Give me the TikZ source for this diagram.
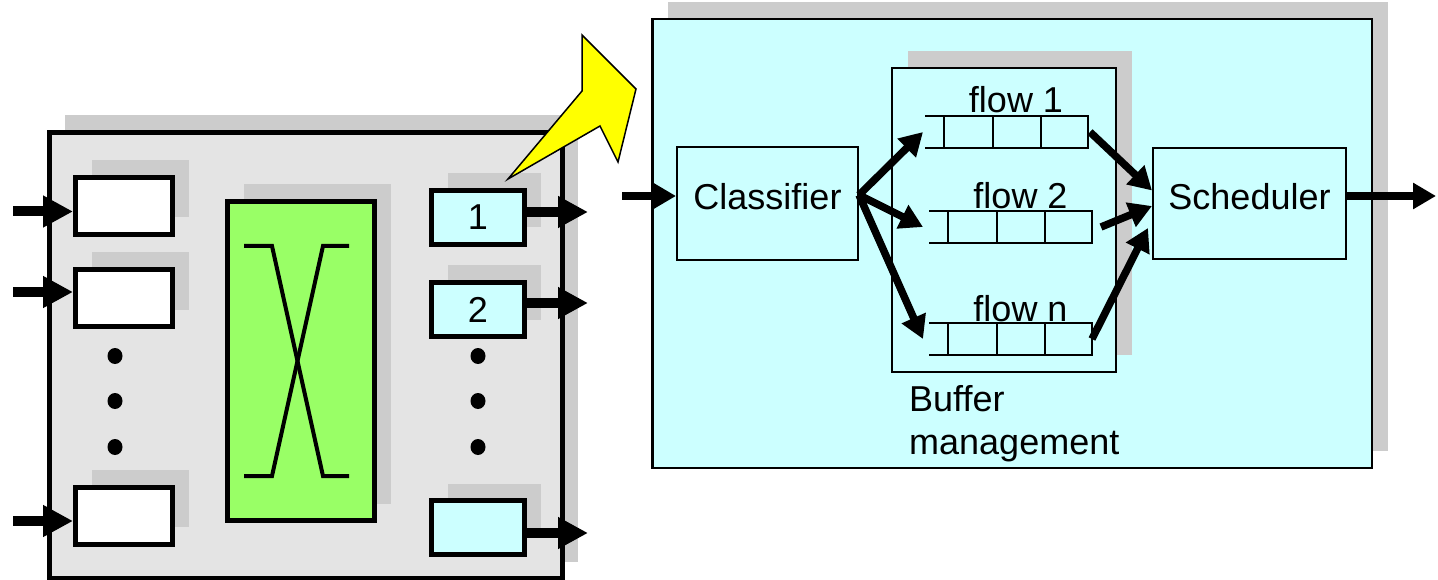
\documentclass[tikz,border=0pt]{standalone}
\usepackage{fontspec}
\setmainfont{Liberation Sans}
\usetikzlibrary{arrows.meta,shadows,calc}
\definecolor{cyanbg}{HTML}{CCFFFF}
\definecolor{shgray}{HTML}{CCCCCC}
\definecolor{boxgray}{HTML}{E4E4E4}
\definecolor{swgreen}{HTML}{99FF66}
\definecolor{hlyellow}{HTML}{FFFF00}
\begin{document}
\begin{tikzpicture}[x=1pt,y=-1pt,
  shd/.style={general shadow={fill=shgray, shadow xshift=16pt, shadow yshift=17pt}},
  thickbox/.style={draw, line width=5pt, inner sep=0pt, shd},
  thinbox/.style={draw, line width=2pt, inner sep=0pt},
  lab/.style={font=\fontsize{36}{43}\selectfont, inner sep=0pt},
  arrL/.style={line width=10pt, -{Triangle[length=30pt,width=30pt]}},
  arrR/.style={line width=7.5pt, -{Triangle[length=23pt,width=25pt]}},
  qline/.style={line width=2pt},
  queue/.pic={
    \node[minimum width=163pt, minimum height=32pt, inner sep=0pt, outer sep=0pt] (-q) at (0,0) {};
    \draw[qline] (-81.5,-16) -- (81.5,-16) -- (81.5,16) -- (-81.5,16);
    \foreach \qx in {-62.5,-14,34} \draw[qline] (\qx,-16) -- (\qx,16);
  }
]
\useasboundingbox (0,0) rectangle (1438,580);

% ---------- right panel ----------
\node[draw, line width=2.5pt, fill=cyanbg, shd, inner sep=0pt,
      minimum width=719.5pt, minimum height=448.5pt] (panel) at (1012,243.5) {};
\node[thinbox, shd, fill=cyanbg, minimum width=224pt, minimum height=304pt] (buf) at (1004,220) {};
\node[thinbox, fill=cyanbg, minimum width=181pt, minimum height=113pt, lab,
      text height=26pt, text depth=13pt] (cls) at (767.5,203.5) {Classifier};
\node[thinbox, fill=cyanbg, minimum width=193pt, minimum height=111pt, lab,
      text height=26pt, text depth=13pt] (sch) at (1249.5,203.5) {Scheduler};

\pic (q1) at (1006.5,132) {queue};
\pic (q2) at (1010.5,227) {queue};
\pic (qn) at (1010.5,339) {queue};
\node[lab, anchor=base] (f1) at (1016,113) {flow 1};
\node[lab, anchor=base] (f2) at (1020.5,209) {flow 2};
\node[lab, anchor=base] (fn) at (1020.5,321) {flow n};
\node[lab, anchor=north west, align=left] (bml) at (909,385) {Buffer\\management};

\coordinate (fork) at ([yshift=8.5pt]cls.east);
\draw[arrR] (fork) -- ([xshift=-2pt]q1-q.west);
\draw[arrR] (fork) -- ([xshift=-6pt]q2-q.west);
\draw[arrR] (fork) -- ([xshift=-6pt]qn-q.west);
\draw[arrR] ([xshift=2pt]q1-q.east) -- ([yshift=13pt]sch.west);
\draw[arrR] ([xshift=9pt]q2-q.east) -- ([yshift=-2.5pt]sch.west);
\draw[arrR] (qn-q.east) -- ([xshift=-4pt,yshift=-24.5pt]sch.west);
\coordinate (cin) at (622,196);
\draw[arrR] (cin) -- (cin -| cls.west);
\coordinate (sout) at (1436,196);
\draw[arrR] (sout -| sch.east) -- (sout);

% ---------- left router ----------
\node[thickbox, fill=boxgray, minimum width=513pt, minimum height=446pt] (router) at (305.5,355.5) {};
\node[thickbox, fill=white, minimum width=97pt, minimum height=57pt] (in1) at (124,206) {};
\node[thickbox, fill=white, minimum width=97pt, minimum height=57pt] (in2) at (124,298) {};
\node[thickbox, fill=white, minimum width=97pt, minimum height=57pt] (in3) at (124,515.5) {};
\node[thickbox, fill=swgreen, minimum width=147pt, minimum height=319pt] (sw) at (301,361) {};
\node[thickbox, fill=cyanbg, minimum width=93pt, minimum height=54pt, lab] (out1) at (478,217.5) {1};
\node[thickbox, fill=cyanbg, minimum width=93pt, minimum height=54pt, lab] (out2) at (478,309.5) {2};
\node[thickbox, fill=cyanbg, minimum width=93pt, minimum height=54pt] (out3) at (478,527.5) {};

\draw[line width=4pt] (244,246) -- (272,246) -- (323,476) -- (349,476);
\draw[line width=4pt] (349,246) -- (323,246) -- (272,476) -- (244,476);

\foreach \dy in {356,401,447} {
  \fill (115,\dy) circle[x radius=7.5pt, y radius=8pt];
  \fill (478,\dy) circle[x radius=7.5pt, y radius=8pt];
}

\coordinate (i1) at (13,211.5);
\coordinate (i2) at (13,292);
\coordinate (i3) at (13,521);
\draw[arrL] (i1) -- (i1 -| in1.west);
\draw[arrL] (i2) -- (i2 -| in2.west);
\draw[arrL] (i3) -- (i3 -| in3.west);
\coordinate (e1) at (588,212);
\coordinate (e2) at (588,303);
\coordinate (e3) at (588,533);
\draw[arrL] (e1 -| out1.east) -- (e1);
\draw[arrL] (e2 -| out2.east) -- (e2);
\draw[arrL] (e3 -| out3.east) -- (e3);

% ---------- yellow zoom arrow ----------
\draw[fill=hlyellow, line width=1.5pt, line join=miter]
  (508,179) -- (582,91) -- (582,35) -- (636,89) -- (618,162) -- (600,126) -- cycle;
\end{tikzpicture}
\end{document}
